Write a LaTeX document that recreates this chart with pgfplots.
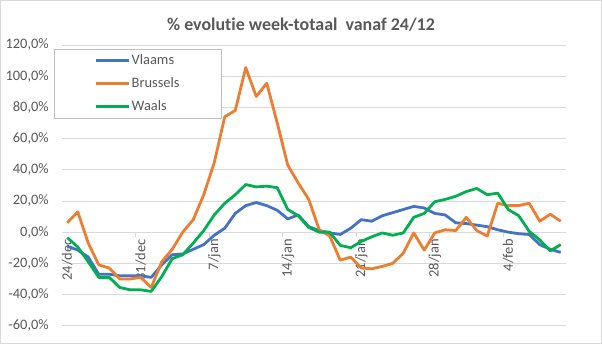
\documentclass[border=0pt]{standalone}
\usepackage{fontspec}
\setmainfont{Carlito}[Ligatures={NoCommon}]
\usepackage{pgfplots}
\pgfplotsset{compat=1.18}
\definecolor{vl}{HTML}{4472C4}
\definecolor{br}{HTML}{ED7D31}
\definecolor{wa}{HTML}{00B050}
\definecolor{txt}{HTML}{595959}
\definecolor{grd}{HTML}{D9D9D9}
\definecolor{lgd}{HTML}{BFBFBF}

\pgfplotstableread{
i vl br wa
0 -9 6 -3.5
1 -11.5 13 -9.5
2 -16 -7 -19
3 -27 -21 -29
4 -27 -23 -29
5 -28 -30 -35.5
6 -28 -30 -37
7 -28 -29 -37
8 -29 -35.5 -38
9 -21 -19 -28.5
10 -14.5 -11 -17
11 -14 0 -14.5
12 -11 8 -7
13 -8 24 1
14 -2 44.5 11
15 2.5 74 18.5
16 12 78 24
17 17 105.5 30.5
18 19 87 29
19 17 95.5 29.5
20 14 70 28.5
21 8.5 43 14.5
22 11 31.5 10.5
23 3.5 21 3
24 1 1.5 0
25 -0.5 -2.5 0
26 -1.5 -18 -8.5
27 2.5 -16 -10
28 8 -23 -6
29 7 -23.5 -3
30 10.5 -22 -0.5
31 12.5 -20 -2
32 14.5 -13.5 -0.5
33 16.5 -0.5 9.5
34 15.5 -11.5 12
35 12 -0.5 19.5
36 11 1.5 21
37 6 1 23
38 5.5 9.5 26
39 4.5 1 28
40 3.5 -2.5 24
41 1.5 18.5 25
42 0 17 14.5
43 -1 17 10.5
44 -1.5 18.5 0.5
45 -8 7 -5
46 -11 11.5 -12
47 -13 7 -8
}\datatable

\begin{document}
\begin{tikzpicture}
\useasboundingbox (0,0) rectangle (602bp,344bp);
\draw[grd, line width=0.75bp] (0.4bp,0.4bp) rectangle (601.6bp,343.6bp);
\node[font=\fontsize{18}{21}\selectfont\bfseries, text=txt] at (301bp,319bp) {\% evolutie week-totaal\ \ vanaf 24/12};
\begin{axis}[
  at={(62bp,18.3bp)}, anchor=south west,
  scale only axis, width=504bp, height=280.7bp,
  xmin=-0.5, xmax=47.5, ymin=-60, ymax=120,
  axis x line=middle, axis y line=left,
  x axis line style={-, grd, line width=0.75bp},
  y axis line style={draw=none},
  ytick={-60,-40,...,120},
  yticklabels={{-60,0\%},{-40,0\%},{-20,0\%},{0,0\%},{20,0\%},{40,0\%},{60,0\%},{80,0\%},{100,0\%},{120,0\%}},
  ytick style={draw=none},
  yticklabel style={font=\fontsize{14.5}{17}\selectfont, text=txt, anchor=east, inner sep=0pt, xshift=-8bp},
  ymajorgrids, grid style={grd, line width=0.75bp},
  xtick={-0.5,6.5,13.5,20.5,27.5,34.5,41.5},
  xticklabels={},
  xtick style={draw=grd, line width=0.75bp},
  major tick length=5bp,
  tick align=outside,
  extra x ticks={0,7,14,21,28,35,42},
  extra x tick labels={24/dec,31/dec,7/jan,14/jan,21/jan,28/jan,4/feb},
  extra x tick style={major tick length=0pt, grid=none},
  xticklabel style={font=\fontsize{14.5}{17}\selectfont, text=txt, rotate=90, anchor=east, inner xsep=7bp, inner ysep=0pt},
  legend style={at={(-0.0159,0.9857)}, anchor=north west, draw=lgd, line width=0.75bp, fill=white,
    font=\fontsize{14.5}{17}\selectfont, text=txt, inner xsep=40bp, inner ysep=3.25bp, row sep=6.5bp,
    nodes={inner sep=1.5bp, text height=10.5bp, text depth=3bp}},
  legend cell align=left,
  legend image code/.code={\draw[#1] (0bp,0bp) -- (33bp,0bp);},
  every axis plot/.append style={line width=2.8bp, line join=round, no markers},
]
\addplot[vl] table[x=i, y=vl] {\datatable};
\addlegendentry{Vlaams}
\addplot[br] table[x=i, y=br] {\datatable};
\addlegendentry{Brussels}
\addplot[wa] table[x=i, y=wa] {\datatable};
\addlegendentry{Waals}
\end{axis}
\end{tikzpicture}
\end{document}
